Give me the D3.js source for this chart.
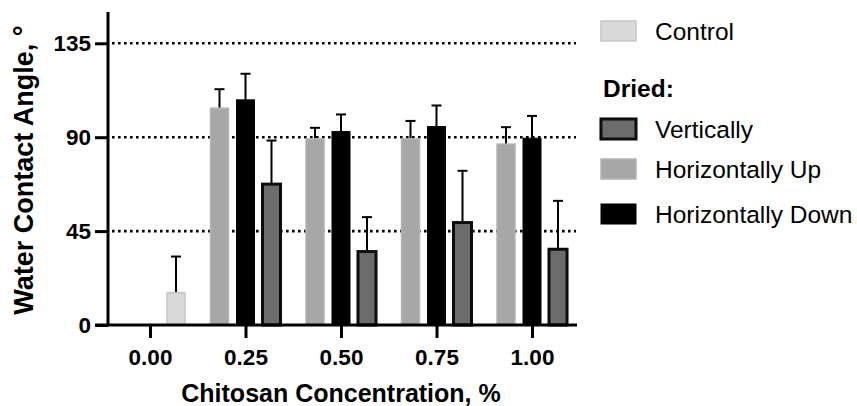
<!DOCTYPE html>
<html>
<head>
<meta charset="utf-8">
<script src="https://cdn.jsdelivr.net/npm/d3@7"></script>
<style>
  body { margin: 0; background: #fff; }
  text { font-family: "Liberation Sans", Arial, sans-serif; fill: #000; }
</style>
</head>
<body>
<svg id="chart" width="857" height="406"></svg>
<script>
// chart values
var categories = ["0.00", "0.25", "0.50", "0.75", "1.00"];
var seriesNames = ["Control", "Vertically", "Horizontally Up", "Horizontally Down"];
var controlMean = [15.5, null, null, null, null];
var controlSD   = [17.3, null, null, null, null];
var vertMean    = [null, 67.5, 35.2, 49.1, 36.3];
var vertSD      = [null, 20.9, 16.5, 24.8, 23.2];
var upMean      = [null, 103.9, 89.2, 89.2, 86.7];
var upSD        = [null, 9.1, 5.3, 8.6, 8.1];
var downMean    = [null, 107.9, 92.7, 95.1, 89.5];
var downSD      = [null, 12.5, 8.2, 10.1, 10.7];
var yTicks = [0, 45, 90, 135];
var gridLines = [45, 90, 135];

var svg = d3.select("#chart");

var y = d3.scaleLinear().domain([0, 150]).range([325, 12]);
var x = d3.scalePoint().domain(categories).range([150, 532]);
// slot inside a group; control sits in the same slot as "vertically"
var slot = d3.scalePoint().domain(["Horizontally Up", "Horizontally Down", "Vertically"]).range([-26, 26]);
var barW = 18;

var styles = {
  "Control":           { fill: "#d9d9d9", stroke: "#c6c6c6", sw: 1.5 },
  "Vertically":        { fill: "#6c6c6c", stroke: "#0d0d0d", sw: 3 },
  "Horizontally Up":   { fill: "#a7a7a7", stroke: "#b4b4b4", sw: 1.5 },
  "Horizontally Down": { fill: "#040404", stroke: "#040404", sw: 1 }
};

// flatten to bar records
var bars = [];
function addSeries(name, means, sds, slotName) {
  categories.forEach(function(c, i) {
    if (means[i] == null) return;
    bars.push({ name: name, cat: c, v: means[i], sd: sds[i], cx: x(c) + slot(slotName) });
  });
}
addSeries("Control", controlMean, controlSD, "Vertically");
addSeries("Horizontally Up", upMean, upSD, "Horizontally Up");
addSeries("Horizontally Down", downMean, downSD, "Horizontally Down");
addSeries("Vertically", vertMean, vertSD, "Vertically");

// slight blur to mimic the soft look
var defs = svg.append("defs");
defs.append("filter").attr("id", "soft")
  .append("feGaussianBlur").attr("stdDeviation", 0.5);

// dotted grid
svg.append("g").selectAll("line").data(gridLines).enter().append("line")
  .attr("x1", 112).attr("x2", 576)
  .attr("y1", function(d) { return y(d); })
  .attr("y2", function(d) { return y(d); })
  .attr("stroke", "#000").attr("stroke-width", 2.6)
  .attr("stroke-dasharray", "2.6,3.4");

// error bars (upper only)
var eb = svg.append("g");
eb.selectAll("line.v").data(bars).enter().append("line")
  .attr("x1", function(d) { return d.cx; }).attr("x2", function(d) { return d.cx; })
  .attr("y1", function(d) { return y(d.v); })
  .attr("y2", function(d) { return y(d.v + d.sd); })
  .attr("stroke", "#000").attr("stroke-width", 2);
eb.selectAll("line.c").data(bars).enter().append("line")
  .attr("x1", function(d) { return d.cx - 5; }).attr("x2", function(d) { return d.cx + 5; })
  .attr("y1", function(d) { return y(d.v + d.sd); })
  .attr("y2", function(d) { return y(d.v + d.sd); })
  .attr("stroke", "#000").attr("stroke-width", 2);

// bars
svg.append("g").attr("filter", "url(#soft)")
  .selectAll("rect").data(bars).enter().append("rect")
  .attr("x", function(d) { return d.cx - barW / 2; })
  .attr("width", barW)
  .attr("y", function(d) { return y(d.v); })
  .attr("height", function(d) { return y(0) - y(d.v); })
  .attr("fill", function(d) { return styles[d.name].fill; })
  .attr("stroke", function(d) { return styles[d.name].stroke; })
  .attr("stroke-width", function(d) { return styles[d.name].sw; });

// y axis
var yAxis = svg.append("g").attr("transform", "translate(108,0)")
  .call(d3.axisLeft(y).tickValues(yTicks).tickSize(13).tickPadding(4).tickFormat(d3.format("d")));
yAxis.select(".domain").attr("d", "M0,12V325").attr("stroke-width", 3);
yAxis.selectAll(".tick line").attr("stroke-width", 3);
yAxis.selectAll(".tick text").style("font-size", "22.5px").style("font-weight", "bold")
  .attr("font-family", null).attr("fill", "#000");

// x axis
var xAxis = svg.append("g").attr("transform", "translate(0,325)")
  .call(d3.axisBottom(x).tickSize(13).tickPadding(11));
xAxis.select(".domain").attr("d", "M95,0H577").attr("stroke-width", 3);
xAxis.selectAll(".tick line").attr("stroke-width", 3);
xAxis.selectAll(".tick text").style("font-size", "22.5px").style("font-weight", "bold")
  .attr("font-family", null).attr("fill", "#000");

// axis titles
svg.append("text").attr("x", 341).attr("y", 402).attr("text-anchor", "middle")
  .style("font-size", "25px").style("font-weight", "bold")
  .text("Chitosan Concentration, %");
svg.append("text").attr("transform", "translate(33,170) rotate(-90)")
  .attr("text-anchor", "middle")
  .style("font-size", "27px").style("font-weight", "bold")
  .text("Water Contact Angle, °");

// legend
var legendRows = [
  { name: "Control", cy: 31 },
  { name: "Vertically", cy: 129 },
  { name: "Horizontally Up", cy: 169 },
  { name: "Horizontally Down", cy: 214 }
];
var lg = svg.append("g");
lg.selectAll("rect").data(legendRows).enter().append("rect")
  .attr("filter", "url(#soft)")
  .attr("x", 601).attr("width", 35)
  .attr("y", function(d) { return d.cy - 10; }).attr("height", 20)
  .attr("fill", function(d) { return styles[d.name].fill; })
  .attr("stroke", function(d) { return styles[d.name].stroke; })
  .attr("stroke-width", function(d) { return styles[d.name].sw; });
lg.selectAll("text").data(legendRows).enter().append("text")
  .attr("x", 655).attr("y", function(d) { return d.cy; })
  .attr("dy", "0.35em")
  .style("font-size", "24.5px")
  .text(function(d) { return d.name; });
lg.append("text").attr("x", 603).attr("y", 88).attr("dy", "0.35em")
  .style("font-size", "24.5px").style("font-weight", "bold")
  .text("Dried:");
</script>
</body>
</html>
